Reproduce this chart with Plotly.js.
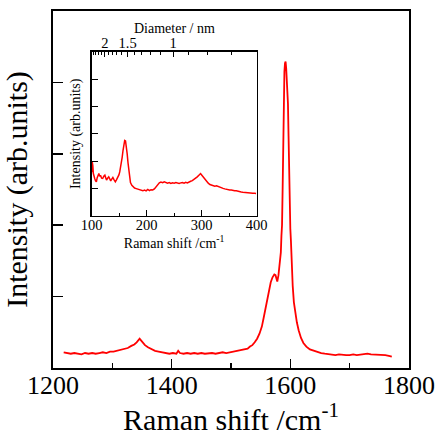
<!DOCTYPE html>
<html>
<head>
<meta charset="utf-8">
<script src="https://cdn.plot.ly/plotly-3.0.1.min.js"></script>
<style>html,body{margin:0;padding:0;background:#fff;}#chart{width:443px;height:436px;}</style>
</head>
<body>
<div id="chart"></div>
<script>
// Main spectrum (G/D band region)
const ramanMain = [1218,1224,1230,1236,1242,1248,1254,1260,1266,1272,1278,1284,1290,1296,1302,1308,1314,1320,1326,1332,1337,1341,1344,1346,1348,1351,1355,1360,1366,1372,1378,1384,1390,1396,1402,1408,1411,1414,1420,1426,1432,1438,1444,1450,1456,1462,1468,1474,1480,1486,1492,1498,1504,1510,1516,1522,1528,1532,1536,1540,1544,1548,1552,1555,1558,1561,1564,1567,1570,1573,1575,1577,1578,1580,1582,1584,1585,1586,1587,1588,1589,1590,1591,1592,1593,1594,1595,1596,1597,1598,1599,1600,1601,1602,1604,1606,1608,1611,1614,1618,1622,1627,1633,1640,1646,1652,1658,1664,1670,1676,1682,1688,1694,1700,1706,1712,1718,1724,1730,1736,1742,1748,1754,1760,1766,1771];
const intensityMain = [0.22,0.21,0.20,0.21,0.20,0.19,0.21,0.20,0.21,0.20,0.21,0.22,0.21,0.23,0.23,0.24,0.25,0.27,0.28,0.31,0.33,0.36,0.39,0.41,0.39,0.36,0.32,0.29,0.26,0.24,0.23,0.22,0.21,0.20,0.21,0.20,0.24,0.21,0.20,0.21,0.20,0.21,0.20,0.21,0.20,0.21,0.21,0.20,0.21,0.22,0.21,0.22,0.23,0.23,0.24,0.25,0.27,0.30,0.32,0.36,0.41,0.48,0.58,0.70,0.83,0.97,1.08,1.20,1.27,1.31,1.30,1.24,1.21,1.30,1.44,1.62,1.85,2.00,2.50,3.30,3.90,4.15,4.27,4.29,4.20,4.05,3.85,3.70,3.25,2.50,2.15,1.95,1.78,1.45,1.15,0.92,0.78,0.64,0.53,0.42,0.35,0.30,0.26,0.24,0.22,0.21,0.20,0.19,0.19,0.18,0.19,0.18,0.18,0.18,0.19,0.18,0.19,0.19,0.20,0.19,0.19,0.18,0.18,0.18,0.17,0.16];

// Inset spectrum (RBM region)
const ramanInset = [100,101,102,103,104,105.5,107,108.5,110,111.5,113,114.5,116,118,120,122,124,125.5,127,129,131,133,134.5,136.5,138.5,140.5,143,145,147.5,149.5,151,152.5,154,155.5,157,158.5,160,161.5,163,164.5,166,167.5,169,170.5,173,175,178,181,184,187,190,193,196,199,202,205,208,211,214,217,220,223,226,229,232,235,238,241,244,247,250,253,256,259,262,265,268,271,274,277,280,283,286,289,292,295,298,300,302,304,306,309,312,315,318,321,324,327,330,333,336,339,342,345,348,351,354,357,360,363,366,369,372,375,378,381,384,387,390,393,396,399];
const intensityInset = [1.60,1.97,1.85,1.55,1.40,1.37,1.28,1.25,1.40,1.52,1.55,1.45,1.49,1.38,1.37,1.45,1.49,1.40,1.31,1.38,1.43,1.35,1.28,1.35,1.41,1.33,1.25,1.32,1.41,1.50,1.61,1.75,1.92,2.15,2.40,2.62,2.76,2.74,2.55,2.28,1.95,1.67,1.40,1.22,1.12,1.07,1.02,1.00,0.98,0.95,0.93,0.92,0.95,0.92,0.97,0.93,0.96,0.95,0.99,1.07,1.15,1.21,1.24,1.22,1.25,1.21,1.20,1.22,1.19,1.21,1.20,1.22,1.21,1.19,1.21,1.22,1.20,1.23,1.21,1.25,1.27,1.29,1.33,1.38,1.43,1.49,1.55,1.50,1.45,1.40,1.33,1.25,1.20,1.15,1.13,1.12,1.09,1.10,1.07,1.05,1.03,1.01,0.99,0.97,0.96,0.95,0.95,0.93,0.92,0.92,0.90,0.89,0.88,0.87,0.86,0.85,0.85,0.84,0.84,0.83,0.83,0.82];

// Diameter axis (nm): labelled and minor ticks; RBM relation omega = 248 / d
const diameterLabels = [2, 1.5, 1];
const diameterMinor = [2.5,2.4,2.3,2.2,2.1,1.9,1.8,1.7,1.6,1.4,1.3,1.2,1.1,0.9,0.8,0.7];
const rbmConstant = 248;

const FONT = 'Liberation Serif, Times New Roman, serif';
const toShift = d => rbmConstant / d;

const traces = [
  {x: ramanMain, y: intensityMain, xaxis: 'x', yaxis: 'y', type: 'scatter', mode: 'lines',
   line: {color: '#ff0000', width: 1.8}, hoverinfo: 'skip'},
  {x: ramanInset, y: intensityInset, xaxis: 'x2', yaxis: 'y2', type: 'scatter', mode: 'lines',
   line: {color: '#ff0000', width: 1.5}, hoverinfo: 'skip'},
  {x: [100, 400], y: [null, null], xaxis: 'x3', yaxis: 'y2', type: 'scatter', mode: 'lines',
   showlegend: false, hoverinfo: 'skip'}
];

const layout = {
  width: 443, height: 436,
  margin: {l: 53, r: 34, t: 11, b: 68},
  paper_bgcolor: '#ffffff', plot_bgcolor: '#ffffff',
  showlegend: false,
  font: {family: FONT, color: '#000'},
  xaxis: {
    domain: [0, 1], anchor: 'y', range: [1200, 1800],
    tick0: 1200, dtick: 200, ticks: 'inside', ticklen: 9, tickwidth: 1.5, tickcolor: '#000',
    minor: {dtick: 100, ticks: 'inside', ticklen: 5, tickwidth: 1.5, tickcolor: '#000'},
    showline: true, linewidth: 2, linecolor: '#000', mirror: true,
    showgrid: false, zeroline: false,
    ticklabelstandoff: -7,
    tickfont: {family: FONT, size: 26, color: '#000'},
    title: {text: 'Raman shift /cm<sup>-1</sup>', font: {family: FONT, size: 30, color: '#000'}, standoff: 8}
  },
  yaxis: {
    domain: [0, 1], anchor: 'x', range: [0, 5],
    tick0: 0, dtick: 1, ticks: 'inside', ticklen: 10, tickwidth: 1.5, tickcolor: '#000',
    showticklabels: false,
    showline: true, linewidth: 2, linecolor: '#000', mirror: true,
    showgrid: false, zeroline: false,
    title: {text: 'Intensity (arb.units)', font: {family: FONT, size: 30, color: '#000'}, standoff: 18}
  },
  xaxis2: {
    domain: [0.1087, 0.572], anchor: 'y2', range: [100, 400],
    tick0: 100, dtick: 100, ticks: 'inside', ticklen: 6, tickwidth: 1, tickcolor: '#000',
    minor: {dtick: 50, ticks: 'inside', ticklen: 3, tickwidth: 1, tickcolor: '#000'},
    showline: true, linewidth: 1.5, linecolor: '#000', mirror: true,
    showgrid: false, zeroline: false,
    ticklabelstandoff: -5,
    tickfont: {family: FONT, size: 14.5, color: '#000'},
    title: {text: 'Raman shift /cm<sup>-1</sup>', font: {family: FONT, size: 14, color: '#000'}, standoff: 2}
  },
  yaxis2: {
    domain: [0.4258, 0.886], anchor: 'x2', range: [0, 6],
    tick0: 0, dtick: 1, ticks: 'inside', ticklen: 6, tickwidth: 1, tickcolor: '#000',
    showticklabels: false,
    showline: true, linewidth: 1.5, linecolor: '#000', mirror: true,
    showgrid: false, zeroline: false,
    title: {text: 'Intensity (arb.units)', font: {family: FONT, size: 14, color: '#000'}, standoff: 6}
  },
  xaxis3: {
    overlaying: 'x2', anchor: 'y2', side: 'top', range: [100, 400],
    tickmode: 'array', tickvals: diameterLabels.map(toShift), ticktext: diameterLabels.map(String),
    ticks: 'inside', ticklen: 5, tickwidth: 1, tickcolor: '#000',
    minor: {tickvals: diameterMinor.map(toShift), ticks: 'inside', ticklen: 3, tickwidth: 1, tickcolor: '#000'},
    showline: true, linewidth: 1.5, linecolor: '#000',
    showgrid: false, zeroline: false,
    ticklabelstandoff: -4,
    tickfont: {family: FONT, size: 14.5, color: '#000'}
  },
  annotations: [
    {text: 'Diameter / nm', xref: 'paper', yref: 'paper', x: 0.3404, y: 0.95,
     xanchor: 'center', yanchor: 'middle', showarrow: false,
     font: {family: FONT, size: 14, color: '#000'}}
  ]
};

Plotly.newPlot('chart', traces, layout, {staticPlot: true, displayModeBar: false});
</script>
</body>
</html>
